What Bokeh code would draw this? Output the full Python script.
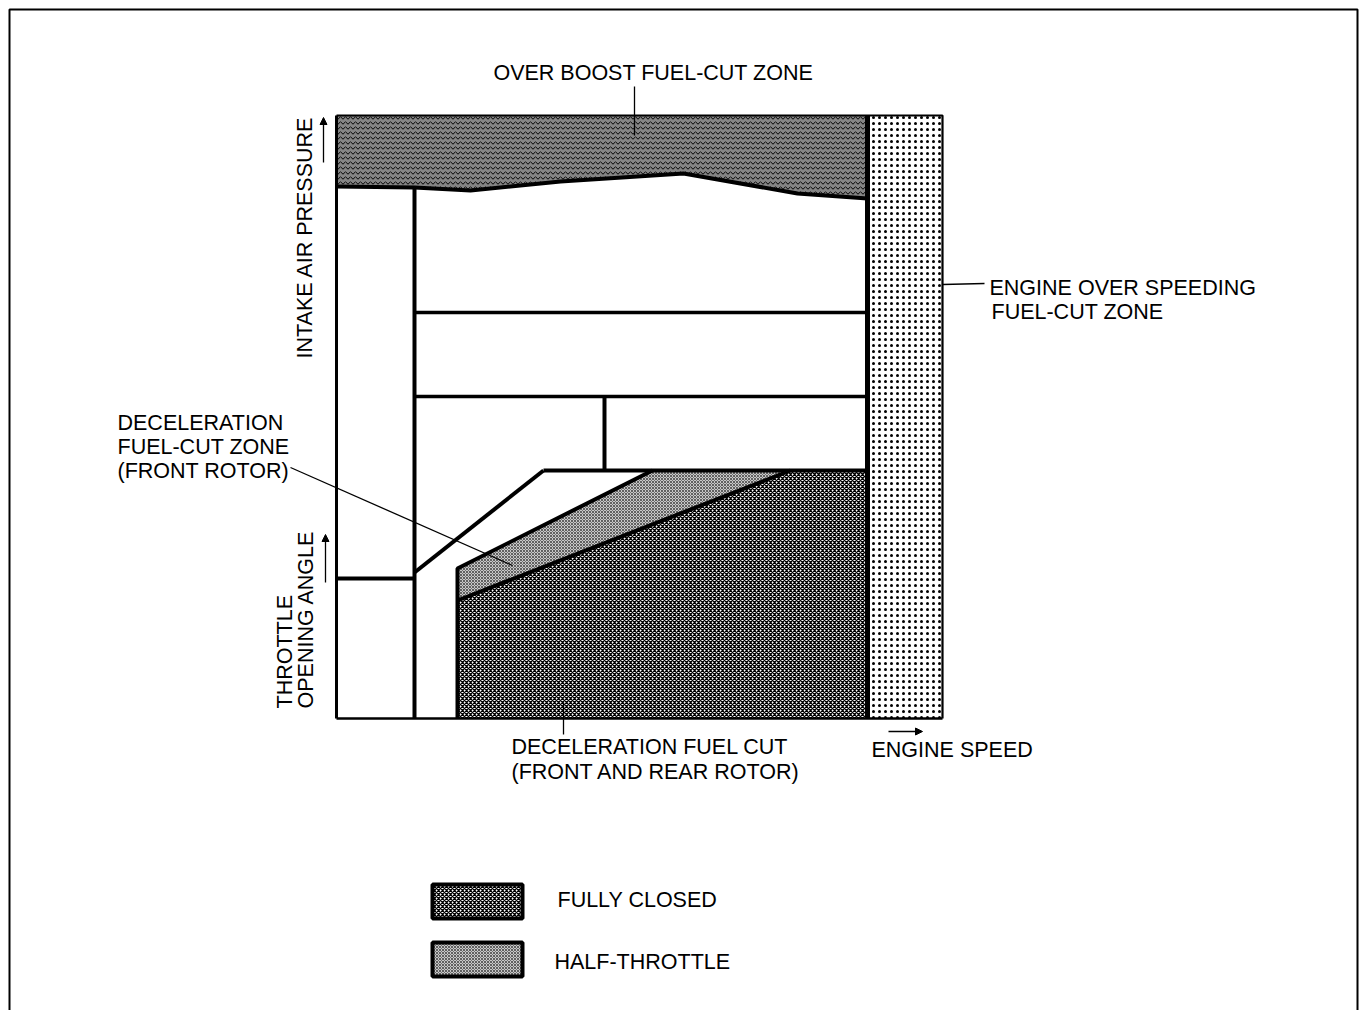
import math
from bokeh.plotting import figure
from bokeh.models import Range1d, Label, Arrow, NormalHead
from bokeh.embed import file_html
from bokeh.resources import INLINE

# ---------------- diagram data (page units; y grows downward) ----------------
frame_x = [9, 1357]
frame_top = 9
frame_bottom = 1012

box_left, box_right = 336, 942
box_top, box_bottom = 115, 718
overspeed_x = 867            # start of engine over-speeding fuel-cut zone
col1_x = 414                 # first engine-speed boundary
col2_x = 457                 # start of deceleration fuel-cut zones
mid_x = 604                  # split inside mid row
row_y = [312, 396, 470]      # intake-pressure / throttle boundaries
left_split_y = 578           # split in first column

boost_x = [336, 414, 470, 560, 683, 797, 867]
boost_y = [186, 187, 190, 181, 173, 193, 198]

diag_x = [414, 543]          # front-rotor zone upper limit
diag_y = [572, 470]
half_x = [457, 652, 790, 457]     # half-throttle decel zone
half_y = [568, 470, 470, 600]
full_x = [457, 790, 867, 867, 457]  # fully closed decel zone
full_y = [600, 470, 470, 718, 718]

legend_labels = ["FULLY CLOSED", "HALF-THROTTLE"]
legend_y = [901, 959]

FONT = "Liberation Sans"
FS = "21.5px"

p = figure(width=1360, height=1010, x_range=Range1d(0, 1360), y_range=Range1d(1010, 0),
           output_backend="svg", toolbar_location=None, min_border=0)
p.axis.visible = False
p.grid.visible = False
p.outline_line_color = None
p.background_fill_color = "white"

# page frame
p.line([frame_x[0], frame_x[0], frame_x[1], frame_x[1]],
       [frame_bottom, frame_top, frame_top, frame_bottom], line_color="black", line_width=2)

# ---------------- textured zones ----------------
# over boost zone
p.patch(boost_x + [overspeed_x, box_left], boost_y + [box_top, box_top],
        fill_color="#858585", hatch_pattern="horizontal_wave", hatch_scale=5, hatch_weight=1.0,
        hatch_color="black", line_color=None)
# overspeed zone
p.patch([overspeed_x, box_right, box_right, overspeed_x], [box_top, box_top, box_bottom, box_bottom],
        fill_color="white", hatch_pattern="dot", hatch_scale=6, hatch_weight=0.7,
        hatch_color="black", line_color=None)
# half throttle zone
p.patch(half_x, half_y, fill_color="#c8c8c8", hatch_pattern="diagonal_cross", hatch_scale=3,
        hatch_weight=0.7, hatch_color="#333333", line_color=None)
# fully closed zone
p.patch(full_x, full_y, fill_color="white", hatch_pattern="diagonal_cross", hatch_scale=4,
        hatch_weight=1.3, hatch_color="black", line_color=None)

# ---------------- boundary lines ----------------
thin = 2.2
thick = 4
p.line([box_left, box_right, box_right], [box_top, box_top, box_bottom], line_color="black", line_width=thin)
p.line([box_left, box_left], [box_top, box_bottom], line_color="black", line_width=3)
p.line([box_left, box_right], [box_bottom, box_bottom], line_color="black", line_width=2.6)
p.line(boost_x, boost_y, line_color="black", line_width=thick)
p.line([overspeed_x, overspeed_x], [box_top, box_bottom], line_color="black", line_width=5)
p.line([col1_x, col1_x], [boost_y[1], box_bottom], line_color="black", line_width=thick)
p.line([box_left, col1_x], [left_split_y, left_split_y], line_color="black", line_width=thick)
p.line([col1_x, overspeed_x], [row_y[0], row_y[0]], line_color="black", line_width=3.5)
p.line([col1_x, overspeed_x], [row_y[1], row_y[1]], line_color="black", line_width=3.5)
p.line([mid_x, mid_x], [row_y[1], row_y[2]], line_color="black", line_width=thick)
p.line([diag_x[1], overspeed_x], [row_y[2], row_y[2]], line_color="black", line_width=thick)
p.line(diag_x, diag_y, line_color="black", line_width=thick)
p.line([col2_x, col2_x, half_x[1]], [box_bottom, half_y[0], half_y[1]], line_color="black", line_width=thick)
p.line([full_x[0], full_x[1]], [full_y[0], full_y[1]], line_color="black", line_width=thick)

# ---------------- leaders ----------------
lead = 1.3
p.line([634, 634], [86, 135], line_color="black", line_width=lead)
p.line([942, 984], [284, 283], line_color="black", line_width=lead)
p.line([290, 512], [467, 565], line_color="black", line_width=lead)
p.line([563, 563], [702, 734], line_color="black", line_width=lead)

# arrows
for xs, ys, xe, ye in [(323, 162, 323, 117), (325, 582, 325, 534), (888, 731, 922, 731)]:
    p.add_layout(Arrow(end=NormalHead(size=7, fill_color="black", line_color="black"),
                       x_start=xs, y_start=ys, x_end=xe, y_end=ye, line_width=1.3))

# ---------------- texts ----------------
def lab(x, y, t, align="left", angle=0.0):
    p.add_layout(Label(x=x, y=y, text=t, text_font=FONT, text_font_size=FS, text_color="black",
                       text_align=align, text_baseline="middle", angle=angle))

lab(653, 72, "OVER BOOST FUEL-CUT ZONE", "center")
lab(989, 287, "ENGINE OVER SPEEDING")
lab(991, 311, "FUEL-CUT ZONE")
lab(117, 422, "DECELERATION")
lab(117, 446, "FUEL-CUT ZONE")
lab(117, 470, "(FRONT ROTOR)")
lab(511, 746, "DECELERATION FUEL CUT")
lab(511, 771, "(FRONT AND REAR ROTOR)")
lab(871, 749, "ENGINE SPEED")
lab(304, 358, "INTAKE AIR PRESSURE", "left", math.pi / 2)
lab(284, 708, "THROTTLE", "left", math.pi / 2)
lab(305, 708, "OPENING ANGLE", "left", math.pi / 2)

# ---------------- legend ----------------
p.rect([477, 477], legend_y, width=90, height=34, fill_color="white",
       hatch_pattern="diagonal_cross", hatch_scale=4, hatch_weight=1.3, hatch_color="black",
       line_color=None)
p.rect([477], [legend_y[1]], width=90, height=34, fill_color="#c8c8c8",
       hatch_pattern="diagonal_cross", hatch_scale=3, hatch_weight=0.7, hatch_color="#333333",
       line_color=None)
p.rect([477, 477], legend_y, width=90, height=34, fill_color=None,
       line_color="black", line_width=4)
lab(557, legend_y[0] - 2, legend_labels[0])
lab(554, legend_y[1] + 2, legend_labels[1])

open("out.html", "w").write(file_html(p, INLINE))
